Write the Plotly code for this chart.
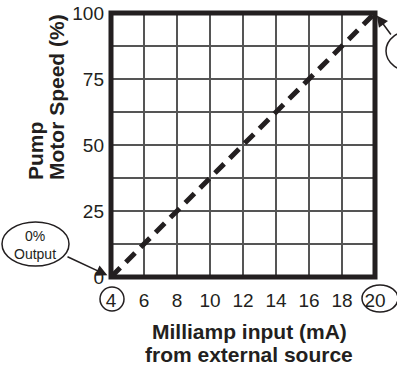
import plotly.graph_objects as go

# Data
ma_input = [4, 20]
motor_speed = [0, 100]
x_ticks = [4, 6, 8, 10, 12, 14, 16, 18, 20]
y_ticks = [0, 25, 50, 75, 100]

FONT = "Liberation Sans, Arial, sans-serif"
INK = "#231f20"

fig = go.Figure()
fig.add_trace(go.Scatter(
    x=ma_input, y=motor_speed, mode="lines",
    line=dict(color=INK, width=5, dash="13px,8px"),
    hoverinfo="skip", showlegend=False,
))

W, H = 397, 368
L, R, T, B = 111, 22, 13, 91

fig.update_layout(
    width=W, height=H,
    margin=dict(l=L, r=R, t=T, b=B, autoexpand=False),
    paper_bgcolor="white", plot_bgcolor="white",
    font=dict(family=FONT, color=INK),
    xaxis=dict(
        range=[4, 20], tickvals=x_ticks, ticktext=[str(v) for v in x_ticks],
        showgrid=True, gridcolor="#555555", gridwidth=1.2,
        zeroline=False, showline=False, ticks="", automargin=False,
        tickfont=dict(size=19, family=FONT, color=INK),
        ticklabelstandoff=10, fixedrange=True,
    ),
    yaxis=dict(
        range=[0, 100], tickvals=y_ticks,
        showgrid=True, gridcolor="#555555", gridwidth=1.2,
        minor=dict(dtick=12.5, showgrid=True, gridcolor="#555555", gridwidth=1.2),
        zeroline=False, showline=False, ticks="", automargin=False,
        tickfont=dict(size=19, family=FONT, color=INK),
        ticklabelstandoff=6, fixedrange=True,
    ),
)

# thick border
fig.add_shape(type="rect", xref="paper", yref="paper", x0=0, x1=1, y0=0, y1=1,
              line=dict(color=INK, width=5), layer="above")

def px(xp):
    return (xp - L) / (W - L - R)

def py(yp):
    return 1 - (yp - T) / (H - T - B)

# ellipses (hand-drawn callouts)
def ell(x0, y0, x1, y1, w=1.5):
    fig.add_shape(type="circle", xref="paper", yref="paper",
                  x0=px(x0), x1=px(x1), y0=py(y1), y1=py(y0),
                  line=dict(color=INK, width=w), layer="above")

ell(2, 222, 69, 266)       # 0% Output
ell(100, 287, 124, 311)    # circle around 4
ell(362, 285, 398, 312)    # circle around 20
ell(386, 30, 440, 72)      # 100% Output (cut off)

fig.add_annotation(xref="paper", yref="paper", x=px(35), y=py(245),
                   xanchor="center", yanchor="middle",
                   text="0%<br>Output", showarrow=False,
                   font=dict(size=14, family=FONT, color=INK), align="center")

# arrows
fig.add_annotation(x=4, y=0, ax=-45, ay=-21,
                   xref="x", yref="y", text="", showarrow=True,
                   arrowhead=2, arrowsize=1.5, arrowwidth=1.5, arrowcolor=INK,
                   standoff=4)
fig.add_annotation(x=20, y=100, ax=17, ay=23,
                   xref="x", yref="y", text="", showarrow=True,
                   arrowhead=2, arrowsize=1.5, arrowwidth=1.5, arrowcolor=INK,
                   standoff=3)

# axis titles
bold = dict(size=21, family=FONT, color=INK, weight="bold")
fig.add_annotation(xref="paper", yref="paper", x=px(249), y=py(331),
                   xanchor="center", yanchor="middle",
                   text="Milliamp input (mA)", showarrow=False, font=bold)
fig.add_annotation(xref="paper", yref="paper", x=px(249), y=py(354),
                   xanchor="center", yanchor="middle",
                   text="from external source", showarrow=False, font=bold)
fig.add_annotation(xref="paper", yref="paper", x=px(56), y=py(182),
                   xanchor="center", yanchor="bottom",
                   text="Motor Speed (%)", showarrow=False, font=bold,
                   textangle=-90)
fig.add_annotation(xref="paper", yref="paper", x=px(35), y=py(182),
                   xanchor="center", yanchor="bottom",
                   text="Pump", showarrow=False, font=bold,
                   textangle=-90)

fig.write_html("out.html", config={"displayModeBar": False, "staticPlot": True},
               post_script="document.body.style.margin='0';")
